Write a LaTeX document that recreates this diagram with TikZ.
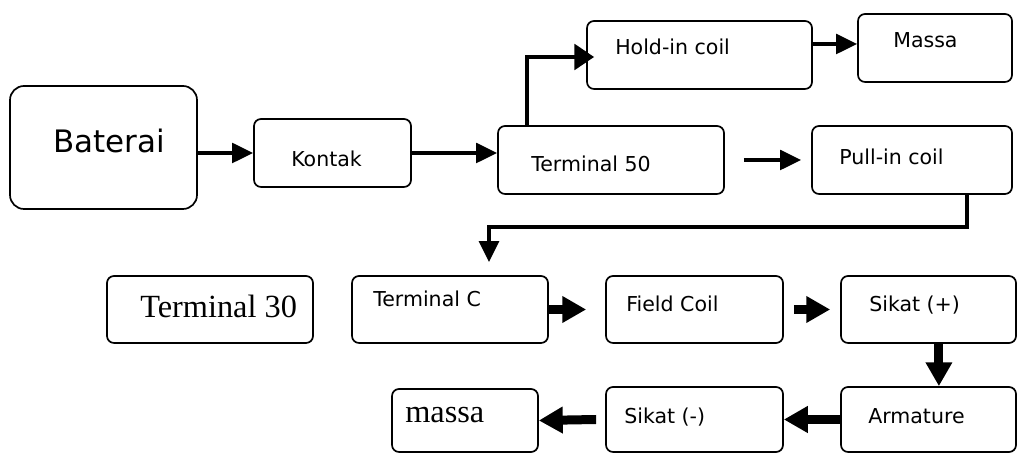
\documentclass[tikz,border=0pt]{standalone}
\usepackage{fontspec}
\setmainfont{DejaVu Sans}
\newfontfamily\timesfont{Liberation Serif}
\usetikzlibrary{arrows.meta}

\begin{document}
\begin{tikzpicture}[
    box/.style={draw=black, line width=1.2pt, rectangle, rounded corners=5pt, inner sep=0pt},
    bigbox/.style={box, rounded corners=10pt},
    txt/.style={anchor=base west, inner sep=0pt, font=\fontsize{14.6}{17}\selectfont},
    serif/.style={anchor=base west, inner sep=0pt, font=\timesfont\fontsize{23}{26}\selectfont},
    thinarr/.style={line width=2.4pt, -{Triangle[length=15pt, width=14pt]}},
    fatarr/.style={line width=6.4pt, -{Triangle[length=17pt, width=18pt]}}
  ]
      \useasboundingbox (0,0) rectangle (25.5,11.325);
      % upper part
      \node[bigbox, minimum width=4.675cm, minimum height=3.075cm] (bat) at (2.5875,7.6375) {};
      \node[box, minimum width=3.925cm, minimum height=1.7cm] (kon) at (8.3125,7.5) {};
      \node[box, minimum width=5.65cm, minimum height=1.7cm] (t50) at (15.275,7.325) {};
      \node[box, minimum width=5.625cm, minimum height=1.7cm] (hold) at (17.4875,9.95) {};
      \node[box, minimum width=3.85cm, minimum height=1.7cm] (mas1) at (23.375,10.125) {};
      \node[box, minimum width=5.0cm, minimum height=1.7cm] (pull) at (22.8,7.325) {};
      %
      \node[txt, font=\fontsize{22}{25}\selectfont] (bat-t) at (1.325,7.5) {Baterai};
      \node[txt] (kon-t) at (7.275,7.15) {Kontak};
      \node[txt] (t50-t) at (13.275,7.025) {Terminal 50};
      \node[txt] (hold-t) at (15.375,9.95) {Hold-in coil};
      \node[txt] (mas1-t) at (22.325,10.125) {Massa};
      \node[txt] (pull-t) at (20.975,7.2) {Pull-in coil};
      % lower part
      \node[box, minimum width=5.15cm, minimum height=1.675cm] (t30) at (5.25,3.5875) {};
      \node[box, minimum width=4.9cm, minimum height=1.675cm] (tc) at (11.25,3.5875) {};
      \node[box, minimum width=4.425cm, minimum height=1.675cm] (fc) at (17.3625,3.5875) {};
      \node[box, minimum width=4.375cm, minimum height=1.675cm] (sp) at (23.2125,3.5875) {};
      \node[box, minimum width=4.375cm, minimum height=1.625cm] (arm) at (23.2125,0.8375) {};
      \node[box, minimum width=4.425cm, minimum height=1.625cm] (sm) at (17.3625,0.8375) {};
      \node[box, minimum width=3.65cm, minimum height=1.575cm] (mas2) at (11.625,0.8125) {};
      %
      \node[serif] (t30-t) at (3.5,3.375) {Terminal 30};
      \node[txt] (tc-t) at (9.325,3.65) {Terminal C};
      \node[txt] (fc-t) at (15.65,3.525) {Field Coil};
      \node[txt] (sp-t) at (21.725,3.525) {Sikat (+)};
      \node[txt] (arm-t) at (21.7,0.725) {Armature};
      \node[txt] (sm-t) at (15.6,0.725) {Sikat (-)};
      \node[serif] (mas2-t) at (10.125,0.75) {massa};
      % connectors
      \coordinate (t50out) at ([xshift=0.475cm]t50.east);
      \draw[thinarr] (bat.east |- kon.west) -- (kon.west);
      \draw[thinarr] (kon.east) -- (kon.east -| t50.west);
      \draw[line width=3pt, -{Triangle[length=14pt, width=18pt]}] ([xshift=0.75cm]t50.north west) |- ([xshift=0.2cm, yshift=-0.05cm]hold.west);
      \draw[thinarr] ([yshift=0.275cm]hold.east) -- ([yshift=0.275cm]hold.east -| mas1.west);
      \draw[thinarr] (t50out) -- ([xshift=-0.25cm]pull.west);
      \draw[thinarr, line width=2.8pt] ([xshift=1.375cm]pull.south) -- ++(0,-0.8) -| ([xshift=0.975cm, yshift=0.325cm]tc.north);
      %
      \draw[fatarr] (tc.east) -- ([xshift=-0.475cm]fc.west);
      \draw[fatarr] ([xshift=0.25cm]fc.east) -- ([xshift=-0.25cm]sp.west);
      \draw[fatarr] ([xshift=0.26cm]sp.south) -- ([xshift=0.26cm]arm.north);
      \draw[fatarr] (arm.west) -- (sm.east);
      \draw[fatarr] ([xshift=-0.225cm]sm.west) -- (mas2.east);
\end{tikzpicture}
\end{document}
